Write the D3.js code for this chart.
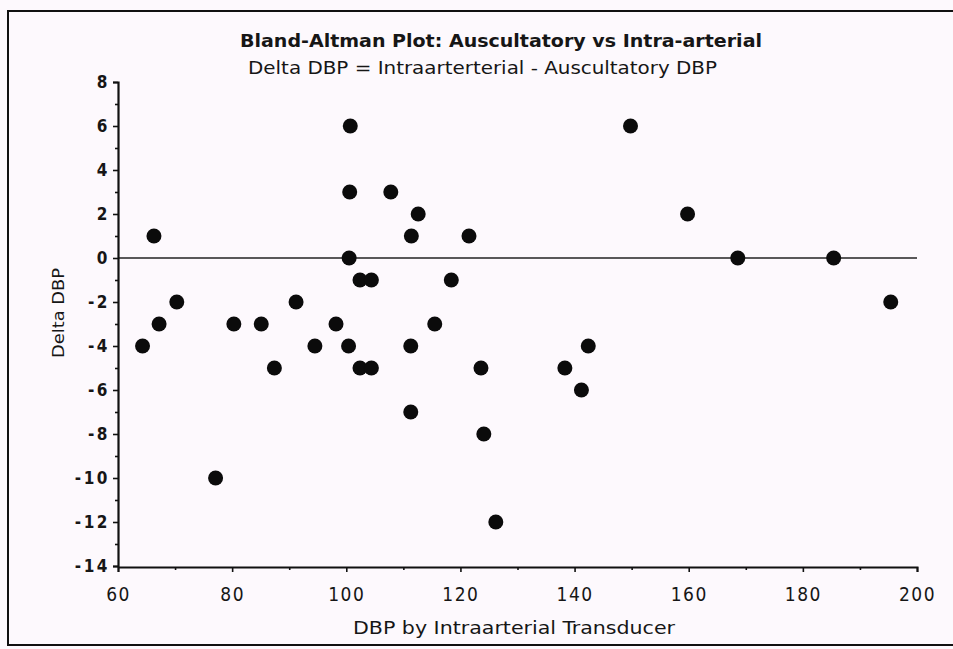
<!DOCTYPE html>
<html>
<head>
<meta charset="utf-8">
<script src="https://cdn.jsdelivr.net/npm/d3@7"></script>
<style>
  html, body { margin: 0; padding: 0; background: #fdf9fd; }
  svg { display: block; }
  text { font-family: "Liberation Sans Narrow", "DejaVu Sans Condensed", "DejaVu Sans", sans-serif; fill: #161616; }
</style>
</head>
<body>
<svg id="chart" width="953" height="649"></svg>
<script>
// Mean diastolic pressure (intra-arterial transducer) for each subject
const meanDBP = [64.3, 66.3, 67.2, 70.3, 77.1, 80.3, 85.1, 87.4, 91.2, 94.5,
                 98.2, 100.7, 100.6, 100.5, 100.4, 102.4, 104.4, 102.4, 104.4, 107.8,
                 111.4, 112.6, 111.3, 111.3, 115.5, 118.4, 121.5, 123.6, 124.1, 126.2,
                 138.3, 141.2, 142.4, 149.8, 159.8, 168.6, 185.4, 195.4];
// Difference: intra-arterial minus auscultatory DBP
const deltaDBP = [-4, 1, -3, -2, -10, -3, -3, -5, -2, -4,
                  -3, 6, 3, 0, -4, -1, -1, -5, -5, 3,
                  1, 2, -4, -7, -3, -1, 1, -5, -8, -12,
                  -5, -6, -4, 6, 2, 0, 0, -2];

const xTicks = [60, 80, 100, 120, 140, 160, 180, 200];
const xMinorTicks = [70, 90, 110, 130, 150, 170, 190];
const yTicks = [8, 6, 4, 2, 0, -2, -4, -6, -8, -10, -12, -14];
const yMinorTicks = [7, 5, 3, 1, -1, -3, -5, -7, -9, -11, -13];
const referenceLine = [[60, 0], [200, 0]];

const titleText = "Bland-Altman Plot: Auscultatory vs Intra-arterial";
const subtitleText = "Delta DBP = Intraarterterial - Auscultatory DBP";
const xTitleText = "DBP by Intraarterial Transducer";
const yTitleText = "Delta DBP";

const svg = d3.select("#chart");
const ink = "#111";
const fontStack = "\"Liberation Sans Narrow\", \"DejaVu Sans Condensed\", \"DejaVu Sans\", sans-serif";

const x = d3.scaleLinear().domain([60, 200]).range([118, 917]);
const y = d3.scaleLinear().domain([-14, 8]).range([566, 82]);

// Frame around the figure
svg.append("path")
  .attr("d", "M953,11 L8,11 L8,645 L953,645")
  .attr("fill", "none")
  .attr("stroke", ink)
  .attr("stroke-width", 2);

// Titles
svg.append("text")
  .attr("x", 240).attr("y", 47)
  .attr("font-size", 18).attr("font-weight", "bold")
  .attr("textLength", 522).attr("lengthAdjust", "spacingAndGlyphs")
  .text(titleText);

svg.append("text")
  .attr("x", 248).attr("y", 74)
  .attr("font-size", 17)
  .attr("textLength", 469).attr("lengthAdjust", "spacingAndGlyphs")
  .text(subtitleText);

// Zero reference line
svg.append("path")
  .datum(referenceLine)
  .attr("d", d3.line().x(d => x(d[0])).y(d => y(d[1])))
  .attr("stroke", "#222")
  .attr("stroke-width", 1.6)
  .attr("fill", "none");

// Y axis
const fmtY = d => d < 0 ? "-" + Math.abs(d) : String(d);
const yAxis = svg.append("g")
  .attr("transform", `translate(${x(60)},0)`)
  .call(d3.axisLeft(y).tickValues(yTicks).tickSize(5).tickPadding(3).tickFormat(fmtY));
yAxis.select(".domain").attr("stroke", ink).attr("stroke-width", 2.2);
yAxis.selectAll(".tick line").attr("stroke", ink).attr("stroke-width", 1.6);
yAxis.selectAll(".tick text")
  .attr("font-size", 17).attr("font-weight", "bold")
  .attr("letter-spacing", 2.5)
  .attr("fill", "#1a1a1a")
  .style("font-family", fontStack);

svg.append("g")
  .attr("transform", `translate(${x(60)},0)`)
  .call(d3.axisLeft(y).tickValues(yMinorTicks).tickSize(3).tickFormat(""))
  .call(g => g.select(".domain").remove())
  .selectAll(".tick line").attr("stroke", ink).attr("stroke-width", 1.6);

// X axis
const xAxis = svg.append("g")
  .attr("transform", `translate(0,${y(-14) + 1})`)
  .call(d3.axisBottom(x).tickValues(xTicks).tickSize(5).tickPadding(16));
xAxis.select(".domain").attr("stroke", ink).attr("stroke-width", 2);
xAxis.selectAll(".tick line").attr("stroke", ink).attr("stroke-width", 1.6);
xAxis.selectAll(".tick text")
  .attr("font-size", 19)
  .attr("letter-spacing", 1.5)
  .attr("fill", "#1a1a1a")
  .style("font-family", fontStack);

svg.append("g")
  .attr("transform", `translate(0,${y(-14) + 1})`)
  .call(d3.axisBottom(x).tickValues(xMinorTicks).tickSize(3).tickFormat(""))
  .call(g => g.select(".domain").remove())
  .selectAll(".tick line").attr("stroke", ink).attr("stroke-width", 1.6);

// Axis titles
svg.append("text")
  .attr("x", 353).attr("y", 634)
  .attr("font-size", 18)
  .attr("textLength", 322).attr("lengthAdjust", "spacingAndGlyphs")
  .text(xTitleText);

svg.append("text")
  .attr("transform", "translate(64,358) rotate(-90)")
  .attr("font-size", 16)
  .attr("textLength", 90).attr("lengthAdjust", "spacingAndGlyphs")
  .text(yTitleText);

// Data points
svg.append("g")
  .selectAll("circle")
  .data(meanDBP.map((m, i) => ({ m, d: deltaDBP[i] })))
  .join("circle")
  .attr("cx", p => x(p.m))
  .attr("cy", p => y(p.d))
  .attr("r", 7.5)
  .attr("fill", "#0b0b0b");
</script>
</body>
</html>
